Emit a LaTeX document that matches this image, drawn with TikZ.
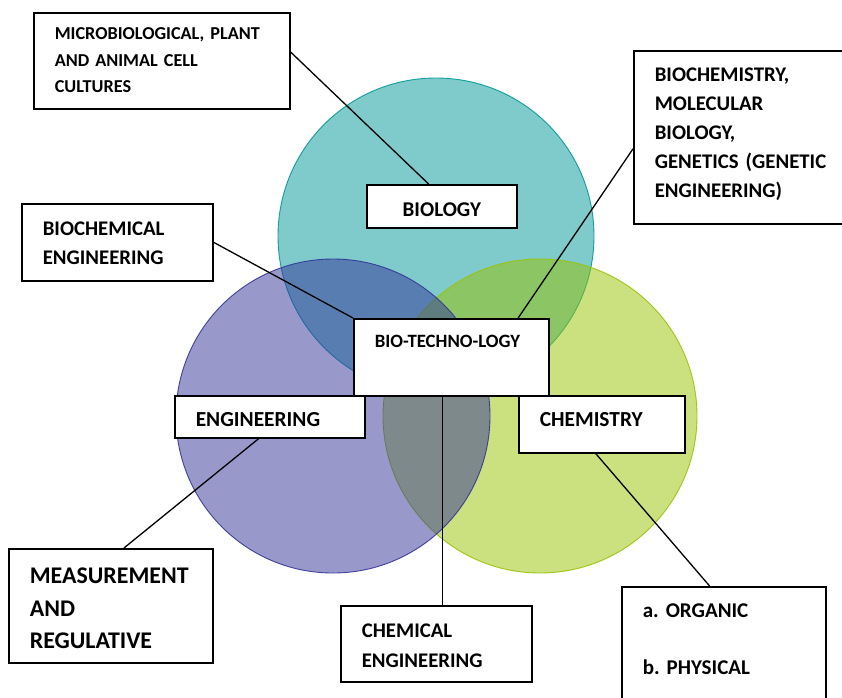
\documentclass[tikz,border=0pt]{standalone}
\usepackage{fontspec}
\setmainfont{Carlito}
\usetikzlibrary{calc}
\frenchspacing
\definecolor{bioC}{RGB}{0,151,151}
\definecolor{engC}{RGB}{51,51,153}
\definecolor{chemC}{RGB}{153,195,0}
\newcommand\fsz[2]{\bfseries\fontsize{#1pt}{#2pt}\selectfont\spaceskip=0.226em\relax}
\begin{document}
\begin{tikzpicture}[x=1pt,y=-1pt,
  lbl/.style={draw=black, line width=1.6pt, fill=white, inner xsep=21pt, inner ysep=0pt,
    align=left, anchor=north west},
  conn/.style={draw=black, line width=1.3pt},
  circ/.style={fill opacity=0.5, draw opacity=0.9, line width=0.9pt}]
\useasboundingbox (0,0) rectangle (842,697);
\fill[white] (0,0) rectangle (842,697);
% circles
\path[circ, fill=bioC, draw=bioC] (436,236) circle[radius=158];
\path[circ, fill=chemC, draw=chemC] (540,416) circle[radius=157];
\path[circ, fill=engC, draw=engC] (333,416) circle[radius=157];
% boxes
\node[lbl, text width=214pt, text height=27pt, text depth=69pt, font=\fsz{18.2}{26.5}] (micro) at (33,12)
  {MICROBIOLOGICAL, PLANT\\AND ANIMAL CELL\\CULTURES};
\node[lbl, text width=175pt, text height=31pt, text depth=142pt, font=\fsz{20.8}{29}] (biochem) at (633,50)
  {BIOCHEMISTRY,\\MOLECULAR\\BIOLOGY,\\GENETICS (GENETIC\\ENGINEERING)};
\node[lbl, align=center, text width=108pt, text height=32pt, text depth=11pt, font=\fsz{21}{29}] (bio) at (366,184)
  {BIOLOGY};
\node[lbl, text width=149pt, text height=32pt, text depth=45pt, font=\fsz{20.8}{29}] (bceng) at (21,203)
  {BIOCHEMICAL\\ENGINEERING};
\node[lbl, text width=153pt, text height=29pt, text depth=48pt, font=\fsz{18.8}{24}] (bt) at (353,318)
  {BIO-TECHNO-LOGY};
\node[lbl, text width=148pt, text height=31pt, text depth=11pt, font=\fsz{21.4}{29}] (eng) at (174,395)
  {ENGINEERING};
\node[lbl, text width=124pt, text height=31pt, text depth=26pt, font=\fsz{21.4}{29}] (chem) at (518,395)
  {CHEMISTRY};
\node[lbl, text width=162pt, text height=35pt, text depth=79pt, font=\fsz{23.9}{32.5}] (meas) at (8,548)
  {MEASUREMENT\\AND\\REGULATIVE};
\node[lbl, text width=149pt, text height=31.5pt, text depth=44.5pt, font=\fsz{20.8}{30}] (ce) at (340,605)
  {CHEMICAL\\ENGINEERING};
\node[lbl, text width=162pt, text height=30.5pt, text depth=92pt, font=\fsz{21}{28}] (org) at (621,586)
  {a. ORGANIC\\[29pt]b. PHYSICAL};
% connectors
\draw[conn] ($(micro.north east)!0.41!(micro.south east)$) -- ($(bio.north west)!0.413!(bio.north east)$);
\draw[conn] ($(biochem.north west)!0.566!(biochem.south west)$) -- ($(bt.north west)!0.84!(bt.north east)$);
\draw[conn] ($(bceng.north east)!0.5!(bceng.south east)$) -- (bt.north west);
\coordinate (btb) at ($(bt.south west)!0.456!(bt.south east)$);
\draw[conn] (btb) -- (btb |- ce.north);
\draw[conn] ($(eng.south west)!0.442!(eng.south east)$) -- ($(meas.north west)!0.564!(meas.north east)$);
\draw[conn] ($(chem.south west)!0.464!(chem.south east)$) -- ($(org.north west)!0.431!(org.north east)$);
\end{tikzpicture}
\end{document}
